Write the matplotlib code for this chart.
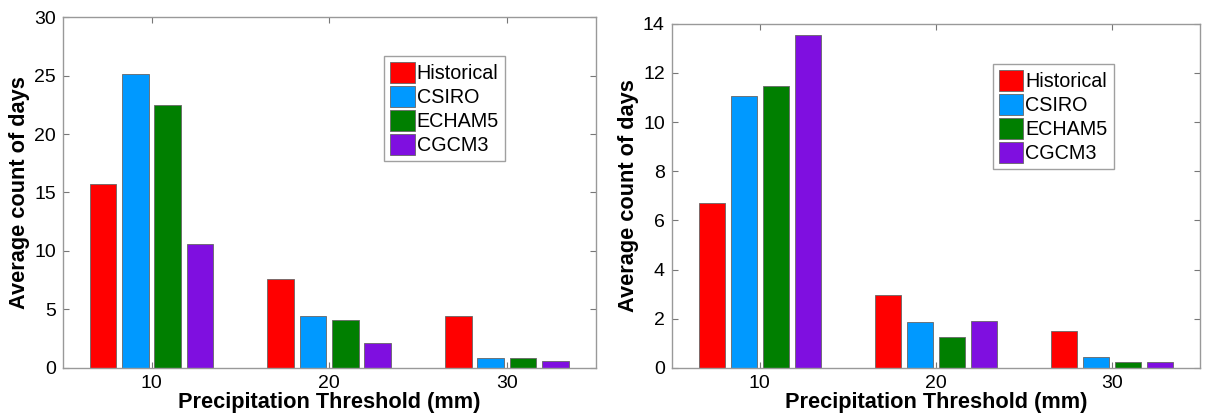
import matplotlib
matplotlib.use("Agg")
import matplotlib.pyplot as plt
import numpy as np

plt.rcParams['font.family'] = ['Liberation Sans', 'DejaVu Sans']

thresholds = [10, 20, 30]
series = ["Historical", "CSIRO", "ECHAM5", "CGCM3"]
colors = ["#FF0000", "#0099FF", "#007F00", "#7F0FE0"]

left_hist = [15.7, 7.6, 4.4]
left_csiro = [25.1, 4.45, 0.8]
left_echam = [22.5, 4.1, 0.8]
left_cgcm = [10.6, 2.1, 0.62]

right_hist = [6.7, 2.97, 1.49]
right_csiro = [11.06, 1.87, 0.45]
right_echam = [11.47, 1.24, 0.25]
right_cgcm = [13.55, 1.91, 0.24]

offsets = [-2.73, -0.91, 0.91, 2.73]
bar_w = 1.5

fig = plt.figure(figsize=(12.06, 4.18), dpi=100)
ax1 = fig.add_axes([0.052, 0.12, 0.442, 0.839])
ax2 = fig.add_axes([0.557, 0.12, 0.438, 0.823])

def draw(ax, data, ylim, yticks, legend_anchor):
    x = np.array(thresholds, dtype=float)
    for vals, off, c, name in zip(data, offsets, colors, series):
        ax.bar(x + off, vals, width=bar_w, color=c, edgecolor='#666666',
               linewidth=0.6, label=name)
    ax.set_xlim(5, 35)
    ax.set_ylim(*ylim)
    ax.set_xticks(thresholds)
    ax.set_yticks(yticks)
    ax.tick_params(direction='in', top=True, right=True, labelsize=14,
                   length=4, width=0.8, color='#777777', pad=5)
    for s in ax.spines.values():
        s.set_color('#999999')
        s.set_linewidth(1.0)
    ax.set_xlabel("Precipitation Threshold (mm)", fontsize=15.7,
                  fontweight='bold', labelpad=0)
    ax.set_ylabel("Average count of days", fontsize=15.7, fontweight='bold',
                  labelpad=3)
    leg = ax.legend(loc='upper left', bbox_to_anchor=legend_anchor,
                    fontsize=14.2, frameon=True, fancybox=False,
                    handlelength=1.25, handleheight=1.25, handletextpad=0.1,
                    labelspacing=0.15, borderpad=0.3, borderaxespad=0)
    leg.get_frame().set_edgecolor('#888888')
    leg.get_frame().set_linewidth(1.0)

draw(ax1, [left_hist, left_csiro, left_echam, left_cgcm], (0, 30),
     [0, 5, 10, 15, 20, 25, 30], (0.603, 0.888))
draw(ax2, [right_hist, right_csiro, right_echam, right_cgcm], (0, 14),
     [0, 2, 4, 6, 8, 10, 12, 14], (0.608, 0.882))

fig.savefig("out.png", dpi=100)
